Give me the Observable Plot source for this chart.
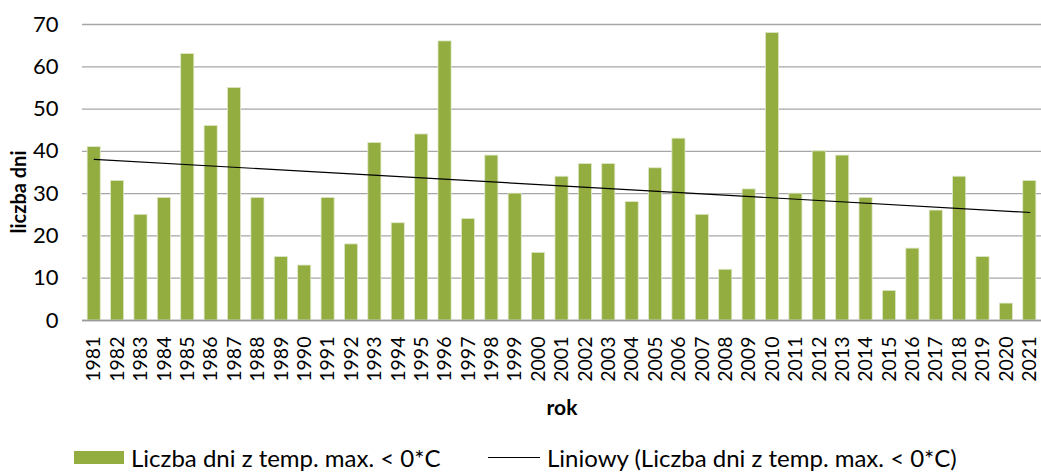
<!DOCTYPE html>
<html>
<head>
<meta charset="utf-8">
<script src="https://cdn.jsdelivr.net/npm/d3@7"></script>
<script src="https://cdn.jsdelivr.net/npm/@observablehq/plot@0.6"></script>
<style>
  body { margin: 0; background: #fff; font-family: Lato, "Open Sans", sans-serif; }
  #chart svg { display: block; font-family: Lato, sans-serif; }
  g[aria-label="x-axis label"] text { font-weight: bold; font-size: 21px; }
  .legend { height: 34px; position: relative; font-family: Lato, sans-serif; font-size: 24px; color: #000; }
  .legend .item { position: absolute; top: 0; display: flex; align-items: center; height: 34px; }
  .swatch { width: 50px; height: 13px; background: #93ad41; margin-right: 7px; }
  .lineSw { width: 52px; height: 0; border-top: 1.2px solid #000; margin-right: 7px; }
</style>
</head>
<body>
<div id="chart"></div>
<div class="legend">
  <div class="item" style="left:74px"><div class="swatch"></div><span>Liczba dni z temp. max. &lt; 0*C</span></div>
  <div class="item" style="left:488px"><div class="lineSw"></div><span>Liniowy (Liczba dni z temp. max. &lt; 0*C)</span></div>
</div>
<script>
const years = ["1981","1982","1983","1984","1985","1986","1987","1988","1989","1990",
  "1991","1992","1993","1994","1995","1996","1997","1998","1999","2000",
  "2001","2002","2003","2004","2005","2006","2007","2008","2009","2010",
  "2011","2012","2013","2014","2015","2016","2017","2018","2019","2020","2021"];
const days = [41,33,25,29,63,46,55,29,15,13,
  29,18,42,23,44,66,24,39,30,16,
  34,37,37,28,36,43,25,12,31,68,
  30,40,39,29,7,17,26,34,15,4,33];
const yTicks = [0,10,20,30,40,50,60,70];
const seriesName = "Liczba dni z temp. max. < 0*C";

const data = years.map((y, i) => ({year: y, days: days[i]}));

// least-squares linear trend (as Excel's "Liniowy" trendline)
const xs = years.map(Number);
const mx = d3.mean(xs), my = d3.mean(days);
const slope = d3.sum(xs, (x, i) => (x - mx) * (days[i] - my)) / d3.sum(xs, x => (x - mx) ** 2);
const icpt = my - slope * mx;
const trend = [years[0], years[years.length - 1]].map(y => ({year: y, v: icpt + slope * Number(y)}));

const chart = Plot.plot({
  width: 1041,
  height: 440,
  marginLeft: 82,
  marginRight: 0,
  marginTop: 24,
  marginBottom: 120,
  x: {domain: years, paddingInner: 0.44, paddingOuter: 0.22, round: false, label: null},
  y: {domain: [0, 70], label: null},
  marks: [
    Plot.gridY(yTicks, {stroke: "#a6a6a6", strokeOpacity: 1, strokeWidth: 1.3}),
    Plot.barY(data, {x: "year", y: "days", fill: "#93ad41", stroke: "#dfe8c8", strokeWidth: 0.8, title: d => seriesName}),
    Plot.ruleY([0], {stroke: "#9a9a9a", strokeWidth: 1.5}),
    Plot.line(trend, {x: "year", y: "v", stroke: "#000", strokeWidth: 1.2}),
    Plot.axisY({ticks: yTicks, tickSize: 0, tickPadding: 24, fontSize: 22, label: null}),
    Plot.axisX({tickRotate: -90, tickSize: 0, tickPadding: 16, fontSize: 19.5, label: "rok", labelAnchor: "center", labelArrow: "none", labelOffset: 94})
  ]
});
document.getElementById("chart").appendChild(chart);

// y-axis title
d3.select(chart).append("text")
  .attr("transform", "translate(26,192) rotate(-90)")
  .attr("text-anchor", "middle")
  .attr("font-weight", "bold")
  .attr("font-size", 20)
  .attr("fill", "#000")
  .text("liczba dni");
</script>
</body>
</html>
